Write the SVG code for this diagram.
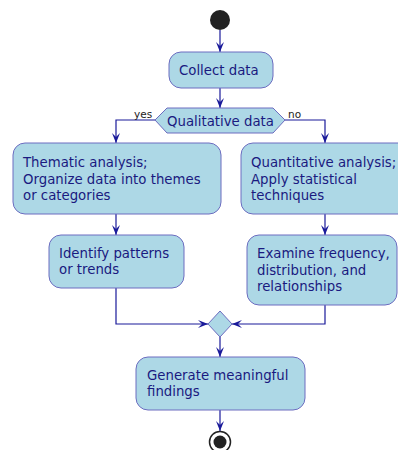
<svg xmlns="http://www.w3.org/2000/svg" width="398" height="450" viewBox="0 0 398 450">
<defs>
<style>
.box{fill:#ADD8E6;stroke:#6C6CC0;stroke-width:1}
.t{font-family:"DejaVu Sans",sans-serif;font-size:13.3px;fill:#1A1A80}
.lbl{font-family:"DejaVu Sans",sans-serif;font-size:10.5px;fill:#222}
.ln{fill:none;stroke:#1A1A9A;stroke-width:1.2}
.ah{fill:#1A1A9A;stroke:none}
</style>
<marker id="arr" viewBox="0 0 10 10" refX="10" refY="5" markerWidth="10" markerHeight="10" markerUnits="userSpaceOnUse" orient="auto">
<path d="M0,1 L10,5 L0,9 L4,5 Z" class="ah"/>
</marker>
</defs>
<g id="connectors">
<path class="ln" d="M220,30 V52" marker-end="url(#arr)"/>
<path class="ln" d="M220,88 V108" marker-end="url(#arr)"/>
<path class="ln" d="M155,120 H116 V143" marker-end="url(#arr)"/>
<text class="lbl" x="134" y="118">yes</text>
<path class="ln" d="M285,120 H325 V143" marker-end="url(#arr)"/>
<text class="lbl" x="288" y="118">no</text>
<path class="ln" d="M116,214 V235" marker-end="url(#arr)"/>
<path class="ln" d="M325,214 V235" marker-end="url(#arr)"/>
<path class="ln" d="M116,288 V324 H208" marker-end="url(#arr)"/>
<path class="ln" d="M325,305 V324 H232" marker-end="url(#arr)"/>
<path class="ln" d="M220,337 V357" marker-end="url(#arr)"/>
<path class="ln" d="M220,410 V431" marker-end="url(#arr)"/>
</g>
<g id="start"><circle cx="220" cy="20" r="10" fill="#222"/></g>
<g id="collect">
<rect class="box" x="169" y="52" width="104" height="36" rx="12"/>
<text class="t" x="179" y="75">Collect data</text>
</g>
<g id="decision">
<polygon class="box" points="155,120 167,108 273,108 285,120 273,133 167,133"/>
<text class="t" x="167" y="126">Qualitative data</text>
</g>
<g id="thematic">
<rect class="box" x="13" y="143" width="208" height="71" rx="12"/>
<text class="t" x="23" y="167">Thematic analysis;</text>
<text class="t" x="23" y="184">Organize data into themes</text>
<text class="t" x="23" y="200">or categories</text>
</g>
<g id="quant">
<rect class="box" x="241" y="143" width="170" height="71" rx="12"/>
<text class="t" x="251" y="167">Quantitative analysis;</text>
<text class="t" x="251" y="184">Apply statistical</text>
<text class="t" x="251" y="200">techniques</text>
</g>
<g id="identify">
<rect class="box" x="49" y="235" width="135" height="53" rx="12"/>
<text class="t" x="59" y="258">Identify patterns</text>
<text class="t" x="59" y="274">or trends</text>
</g>
<g id="examine">
<rect class="box" x="247" y="235" width="150" height="70" rx="12"/>
<text class="t" x="257" y="258">Examine frequency,</text>
<text class="t" x="257" y="275">distribution, and</text>
<text class="t" x="257" y="291">relationships</text>
</g>
<g id="merge">
<polygon class="box" points="220,311 232,324 220,337 208,324"/>
</g>
<g id="generate">
<rect class="box" x="136" y="357" width="169" height="53" rx="12"/>
<text class="t" x="147" y="380">Generate meaningful</text>
<text class="t" x="147" y="396">findings</text>
</g>
<g id="end">
<circle cx="220" cy="442" r="10.5" fill="#fff" stroke="#222" stroke-width="1.5"/>
<circle cx="220" cy="442" r="6.5" fill="#222"/>
</g>
</svg>
